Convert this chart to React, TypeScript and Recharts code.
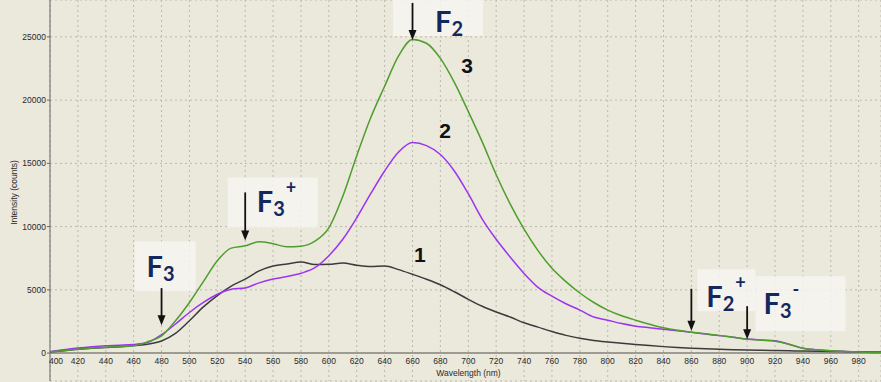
import React from 'react';
import {
  LineChart,
  Line,
  XAxis,
  YAxis,
  CartesianGrid,
  ReferenceLine,
  ReferenceArea,
  ReferenceDot,
} from 'recharts';

// emission spectra, sampled every 10 nm
const wavelengths = [
  400, 410, 420, 430, 440, 450, 460, 470, 480, 490,
  500, 510, 520, 530, 540, 550, 560, 570, 580, 590,
  600, 610, 620, 630, 640, 650, 660, 670, 680, 690,
  700, 710, 720, 730, 740, 750, 760, 770, 780, 790,
  800, 810, 820, 830, 840, 850, 860, 870, 880, 890,
  900, 910, 920, 930, 940, 950, 960, 970, 980, 990, 996,
];

const curve1 = [
  100, 190, 300, 380, 440, 500, 600, 700, 950, 1550,
  2550, 3650, 4550, 5300, 5850, 6500, 6880, 7050, 7200, 7000,
  7020, 7120, 6950, 6850, 6880, 6600, 6230, 5840, 5400, 4850,
  4250, 3700, 3250, 2850, 2400, 2050, 1700, 1400, 1180, 1000,
  880, 780, 680, 590, 510, 440, 380, 340, 300, 270,
  250, 225, 200, 180, 160, 145, 130, 115, 100, 90, 85,
];

const curve2 = [
  100, 260, 395, 500, 578, 620, 683, 840, 1450, 2300,
  3210, 4000, 4650, 5050, 5150, 5550, 5850, 6050, 6310, 6750,
  7700, 9000, 10700, 12600, 14400, 15900, 16650, 16400, 15700, 14400,
  12600, 10600, 9000, 7600, 6300, 5200, 4500, 3900, 3400, 2850,
  2600, 2330, 2130, 2000, 1880, 1760, 1640, 1500, 1380, 1250,
  1110, 1040, 980, 700, 380, 260, 180, 120, 80, 50, 40,
];

const curve3 = [
  100, 200, 300, 390, 460, 510, 578, 890, 1360, 2550,
  4000, 5650, 7300, 8300, 8480, 8800, 8650, 8400, 8450, 8850,
  9900, 12400, 15600, 18600, 21100, 23500, 24800, 24500, 23300, 21400,
  19100, 16700, 14100, 11800, 9800, 8100, 6700, 5650, 4750, 4000,
  3400, 2950, 2600, 2280, 2000, 1800, 1650, 1520, 1400, 1250,
  1100, 1020, 940, 700, 380, 260, 180, 120, 80, 50, 40,
];

const xTicks = [
  400, 420, 440, 460, 480, 500, 520, 540, 560, 580, 600, 620, 640, 660, 680,
  700, 720, 740, 760, 780, 800, 820, 840, 860, 880, 900, 920, 940, 960, 980,
];
const yTicks = [0, 5000, 10000, 15000, 20000, 25000];

// band markers: arrow tip position and label anchor (F left baseline)
const arrowNm = [480, 540, 660, 860, 900];
const arrowTip = [2210, 8910, 24760, 1760, 1100];
const labelNm = [469.3, 548.3, 676.2, 870.7, 911.7];
const labelValue = [5994, 11120, 25418, 3628, 3076];
const labelSub = ['3', '3', '2', '2', '3'];
const labelSup = ['', '+', '', '+', '-'];

// backing boxes behind the band labels
const boxX1 = [460.7, 527.5, 646.0, 864.3, 906.0];
const boxX2 = [504.5, 592.0, 710.6, 906.0, 970.6];
const boxY1 = [4890, 9937, 25079, 3312, 1735];
const boxY2 = [8833, 13880, 27918, 6625, 6072];

// curve numbers
const tagText = ['1', '2', '3'];
const tagNm = [665.3, 683.3, 699.1];
const tagValue = [7177, 17035, 22161];

const arrowLen = [37, 48, 37, 42, 33];

const rows = wavelengths.map((nm, i) => ({
  nm,
  c1: curve1[i],
  c2: curve2[i],
  c3: curve3[i],
}));

const axisFont = "'Liberation Sans', Arial, sans-serif";

const Arrow = ({ cx, cy, len }: any) => (
  <g>
    <line x1={cx} y1={cy - len} x2={cx} y2={cy - 8} stroke="#111" strokeWidth={1.8} />
    <polygon points={`${cx - 4},${cy - 10} ${cx + 4},${cy - 10} ${cx},${cy}`} fill="#111" />
  </g>
);

const BandLabel = ({ cx, cy, sub, sup }: any) => (
  <text
    x={cx}
    y={cy}
    fill="#13295e"
    fontFamily="Lato, 'Open Sans', sans-serif"
    fontWeight={700}
    fontSize={29}
  >
    F
    <tspan fontSize={20} dy={4}>{sub}</tspan>
    {sup ? <tspan fontSize={18} dx={1} dy={-22}>{sup}</tspan> : null}
  </text>
);

const CurveTag = ({ cx, cy, text }: any) => (
  <text x={cx} y={cy} textAnchor="middle" fill="#111" fontFamily={axisFont} fontWeight={700} fontSize={21}>
    {text}
  </text>
);

// x tick labels sit just under the zero line, inside the plot
const XTick = ({ x, y, payload }: any) => (
  <text
    x={x + (payload.value === 400 ? 6 : 0)}
    y={y - 17.5}
    textAnchor="middle"
    fill="#2a2a2a"
    fontFamily={axisFont}
    fontSize={8.5}
  >
    {payload.value}
  </text>
);

const App: React.FC = () => {
  return (
    <div
      style={{
        position: 'absolute',
        left: 0,
        top: 0,
        width: 881,
        height: 382,
        background: '#ebe8dc',
      }}
    >
      <LineChart width={881} height={382} data={rows} margin={{ top: 0, right: 0, bottom: 0, left: 0 }}>
        <CartesianGrid stroke="#bcb8ab" strokeDasharray="2 3" />
        {boxX1.map((x1, i) => (
          <ReferenceArea
            key={`box-${i}`}
            x1={x1}
            x2={boxX2[i]}
            y1={boxY1[i]}
            y2={boxY2[i]}
            fill="#f6f5f1"
            fillOpacity={0.85}
            stroke="none"
            ifOverflow="visible"
          />
        ))}
        <XAxis
          dataKey="nm"
          type="number"
          domain={[400, 996]}
          ticks={xTicks}
          interval={0}
          allowDataOverflow
          height={1}
          axisLine={false}
          tickLine={false}
          tickSize={0}
          tickMargin={0}
          tick={XTick}
          label={{
            value: 'Wavelength (nm)',
            position: 'center',
            dx: 3,
            dy: -9,
            fill: '#2a2a2a',
            fontSize: 8.5,
            fontFamily: axisFont,
          }}
        />
        <YAxis
          type="number"
          domain={[-2208, 27918]}
          ticks={yTicks}
          allowDataOverflow
          width={50}
          axisLine={{ stroke: '#666' }}
          tickLine={{ stroke: '#666' }}
          tickSize={3}
          tickMargin={1}
          tick={{ fill: '#2a2a2a', fontSize: 8.5, fontFamily: axisFont }}
          label={{
            value: 'Intensity (counts)',
            angle: -90,
            position: 'center',
            dx: -11,
            dy: 2,
            fill: '#2a2a2a',
            fontSize: 8.5,
            fontFamily: axisFont,
          }}
        />
        <ReferenceLine y={0} stroke="#9e9b92" strokeWidth={2} />
        <Line type="monotone" dataKey="c1" stroke="#3b3b3b" strokeWidth={1.5} dot={false} isAnimationActive={false} />
        <Line type="monotone" dataKey="c2" stroke="#9b35f0" strokeWidth={1.5} dot={false} isAnimationActive={false} />
        <Line type="monotone" dataKey="c3" stroke="#4e9e2c" strokeWidth={1.5} dot={false} isAnimationActive={false} />
        {arrowNm.map((nm, i) => (
          <ReferenceDot
            key={`arrow-${i}`}
            x={nm}
            y={arrowTip[i]}
            ifOverflow="visible"
            shape={(p: any) => <Arrow cx={p.cx} cy={p.cy} len={arrowLen[i]} />}
          />
        ))}
        {labelNm.map((nm, i) => (
          <ReferenceDot
            key={`label-${i}`}
            x={nm}
            y={labelValue[i]}
            ifOverflow="visible"
            shape={(p: any) => <BandLabel cx={p.cx} cy={p.cy} sub={labelSub[i]} sup={labelSup[i]} />}
          />
        ))}
        {tagText.map((t, i) => (
          <ReferenceDot
            key={`tag-${i}`}
            x={tagNm[i]}
            y={tagValue[i]}
            ifOverflow="visible"
            shape={(p: any) => <CurveTag cx={p.cx} cy={p.cy} text={t} />}
          />
        ))}
      </LineChart>
    </div>
  );
};

export default App;
